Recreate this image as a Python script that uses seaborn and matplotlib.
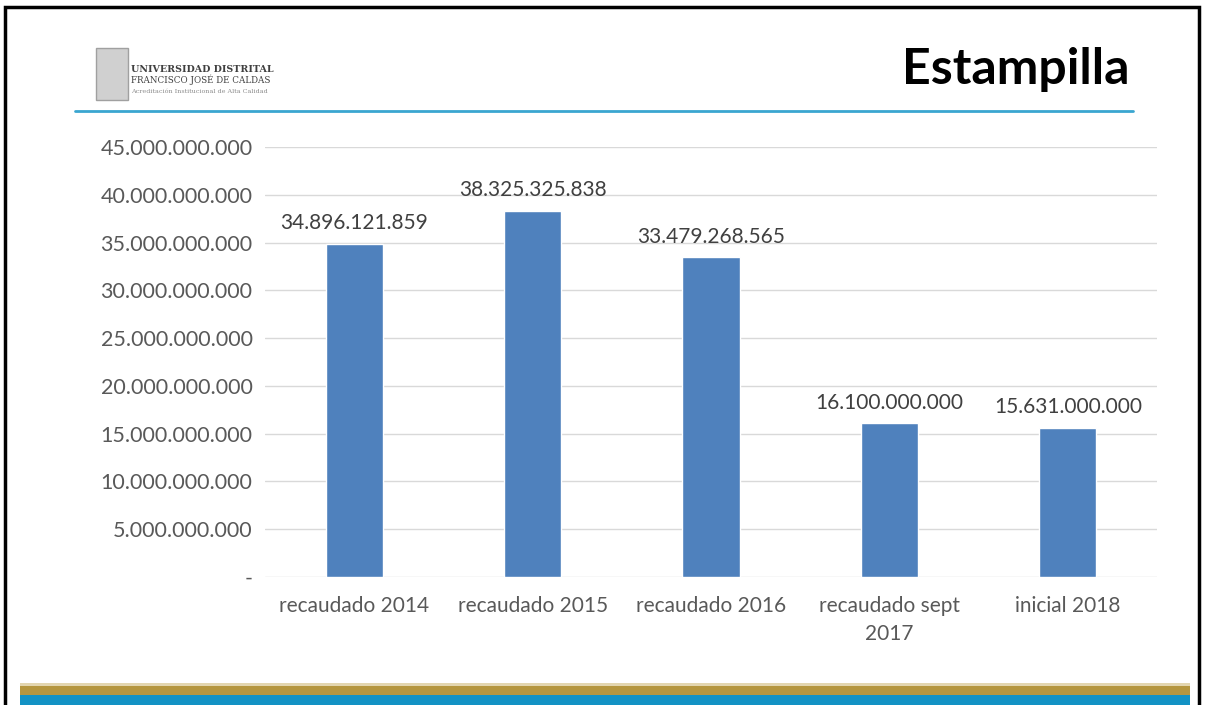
import seaborn as sns
import matplotlib.pyplot as plt
import matplotlib.patches as patches
import pandas as pd

# datos del grafico
categorias = ["recaudado 2014", "recaudado 2015", "recaudado 2016",
              "recaudado sept\n2017", "inicial 2018"]
valores = [34896121859, 38325325838, 33479268565, 16100000000, 15631000000]
ticks_y = [0, 5e9, 10e9, 15e9, 20e9, 25e9, 30e9, 35e9, 40e9, 45e9]

df = pd.DataFrame({"categoria": categorias, "valor": valores})


def miles(v):
    # formato con punto como separador de miles
    if v == 0:
        return "-"
    return f"{int(round(v)):,}".replace(",", ".")


sns.set_style("white")
plt.rcParams["font.family"] = ["Lato", "DejaVu Sans"]

fig = plt.figure(figsize=(12.06, 7.05), dpi=100)
ax = fig.add_axes([265 / 1206, 128 / 705, 892 / 1206, 430 / 705])

sns.barplot(data=df, x="categoria", y="valor", color="#4F81BD",
            width=0.32, saturation=1, ax=ax)

ax.set_ylim(0, 45e9)
ax.set_yticks(ticks_y)
ax.set_yticklabels([miles(t) for t in ticks_y], color="#595959", fontsize=15.5)
ax.set_xticks(range(len(categorias)))
ax.set_xticklabels(categorias, color="#595959", fontsize=15, linespacing=1.45)
ax.tick_params(axis="x", length=0, pad=14)
ax.tick_params(axis="y", length=0, pad=9)
ax.set_xlabel("")
ax.set_ylabel("")
ax.grid(axis="y", color="#D9D9D9", linewidth=1)
ax.set_axisbelow(True)
for s in ax.spines.values():
    s.set_visible(False)

for i, v in enumerate(valores):
    ax.text(i, v + 1.1e9, miles(v), ha="center", va="bottom",
            fontsize=15, color="#404040")

# encabezado
fig.text(1130 / 1206, 1 - 70 / 705, "Estampilla", ha="right", va="center",
         fontsize=36, fontweight="bold", color="black")
fig.add_artist(plt.Line2D([75 / 1206, 1133 / 1206], [1 - 111 / 705] * 2,
                          color="#3AA6D0", linewidth=2))

# logo aproximado
fig.add_artist(patches.Rectangle((96 / 1206, 1 - 100 / 705), 32 / 1206, 52 / 705,
                                 facecolor="#D0D0D0", edgecolor="#A0A0A0",
                                 linewidth=1))
fig.text(131 / 1206, 1 - 72 / 705, "UNIVERSIDAD DISTRITAL", fontsize=6.8,
         fontweight="bold", color="#404040", family="DejaVu Serif")
fig.text(131 / 1206, 1 - 83 / 705, "FRANCISCO JOSÉ DE CALDAS", fontsize=6.3,
         color="#404040", family="DejaVu Serif")
fig.text(131 / 1206, 1 - 93 / 705, "Acreditación Institucional de Alta Calidad",
         fontsize=4.6, color="#8C8C8C", family="DejaVu Serif")

# franjas inferiores
fig.add_artist(patches.Rectangle((20 / 1206, 0), 1170 / 1206, 10 / 705,
                                 facecolor="#1392C4", edgecolor="none"))
fig.add_artist(patches.Rectangle((20 / 1206, 10 / 705), 1170 / 1206, 9 / 705,
                                 facecolor="#B5963F", edgecolor="none"))
fig.add_artist(patches.Rectangle((20 / 1206, 19 / 705), 1170 / 1206, 3 / 705,
                                 facecolor="#E3D6B0", edgecolor="none"))

# marco negro
fig.add_artist(patches.Rectangle((5 / 1206, -0.01), 1194 / 1206, 1 - 7 / 705 + 0.01,
                                 facecolor="none", edgecolor="black",
                                 linewidth=2.5))

fig.savefig("out.png", dpi=100)
